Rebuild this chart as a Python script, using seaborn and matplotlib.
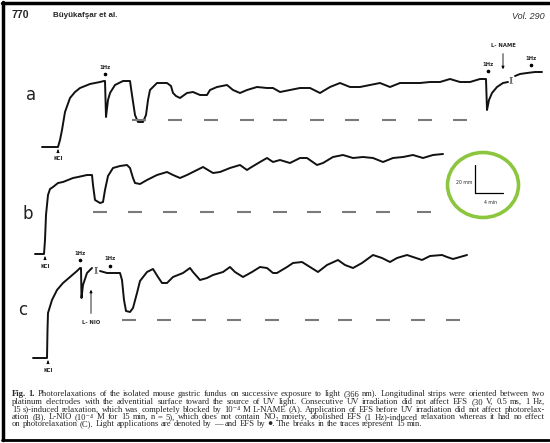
import matplotlib
matplotlib.use("Agg")
import matplotlib.pyplot as plt
import seaborn as sns
from matplotlib.patches import Ellipse

# ---------------- data (image grid units) ----------------
# trace a : KCl contraction, EFS (1 Hz), light relaxations, break, L-NAME, EFS
trace_a1_x = [42, 58, 60, 62, 65, 70, 75, 80, 90, 100, 104, 105, 106, 108, 110, 115, 123, 130, 132, 135,
              138, 143, 146, 148, 150, 157, 167, 171, 173, 176, 180, 187, 193, 200, 207, 210, 217, 227,
              233, 240, 247, 257, 267, 273, 280, 290, 300, 310, 320, 330, 340, 350, 360, 370, 380, 390,
              400, 410, 420, 430, 440, 450, 460, 470, 480, 486, 487, 489, 492, 497, 503, 508]
trace_a1_y = [147, 147, 140, 130, 112, 98, 92, 88, 84, 82, 81, 81, 117, 100, 93, 85, 81, 81, 95, 115,
              122, 122, 115, 100, 90, 83, 83, 86, 93, 96, 98, 93, 92, 95, 95, 90, 87, 85,
              90, 93, 90, 87, 88, 88, 92, 90, 88, 88, 93, 87, 83, 87, 87, 85, 83, 87,
              83, 83, 83, 82, 82, 79, 82, 82, 79, 79, 110, 100, 93, 87, 83, 82]
trace_a2_x = [515, 520, 527, 535, 542]
trace_a2_y = [76, 74, 73, 72, 72]

# trace b : EFS before UV irradiation
trace_b_x = [35, 44, 45, 46, 48, 50, 53, 58, 63, 73, 78, 87, 92, 93, 95, 100, 103, 105, 108, 113, 120,
             127, 130, 133, 135, 140, 147, 157, 167, 173, 180, 187, 197, 203, 208, 213, 220, 230, 240,
             247, 250, 260, 267, 273, 280, 290, 300, 307, 317, 323, 333, 343, 353, 363, 373, 383, 393,
             403, 413, 423, 433, 443]
trace_b_y = [254, 254, 240, 215, 195, 189, 187, 183, 182, 178, 177, 175, 175, 185, 200, 203, 202, 190,
             176, 168, 166, 165, 168, 178, 183, 184, 180, 175, 172, 175, 178, 175, 170, 167, 170, 173,
             172, 168, 165, 170, 168, 162, 158, 162, 160, 163, 158, 158, 165, 163, 157, 155, 158, 157,
             158, 162, 158, 157, 155, 158, 155, 154]

# trace c : L-NIO
trace_c1_x = [33, 47, 47.5, 48, 52, 57, 63, 70, 77, 80, 81, 81.5, 83, 87, 92]
trace_c1_y = [358, 358, 330, 313, 300, 290, 283, 277, 271, 268, 268, 298, 285, 273, 268]
trace_c2_x = [100, 107, 120, 122, 124, 126, 130, 133, 137, 140, 147, 153, 158, 162, 167, 173, 183, 190,
              193, 200, 207, 213, 223, 230, 235, 243, 252, 260, 267, 273, 277, 287, 293, 302, 310, 318,
              327, 338, 345, 353, 362, 373, 382, 390, 397, 407, 413, 422, 430, 442, 447, 453, 460, 467]
trace_c2_y = [271, 273, 273, 280, 300, 311, 312, 308, 293, 281, 272, 269, 277, 283, 283, 277, 273, 268,
              272, 280, 278, 275, 272, 267, 272, 277, 272, 267, 268, 273, 273, 267, 263, 262, 267, 272,
              265, 260, 265, 268, 263, 255, 258, 262, 258, 255, 257, 260, 256, 255, 257, 259, 257, 255]

# light applications (dashes): start positions, level
light_a_x = [132, 168, 204, 240, 273, 310, 345, 382, 418, 453]
light_a_y = 120
light_b_x = [93, 128, 163, 200, 237, 273, 307, 342, 376, 417]
light_b_y = 212
light_c_x = [122, 157, 192, 227, 265, 305, 338, 376, 411, 446]
light_c_y = 320
light_len = 14

caption = [
    "Fig. 1. Photorelaxations of the isolated mouse gastric fundus on successive exposure to light (366 nm). Longitudinal strips were oriented between two",
    "platinum electrodes with the adventitial surface toward the source of UV light. Consecutive UV irradiation did not affect EFS (30 V, 0.5 ms, 1 Hz,",
    "15 s)-induced relaxation, which was completely blocked by 10\u207b\u2074 M L-NAME (A). Application of EFS before UV irradiation did not affect photorelax-",
    "ation (B). L-NIO (10\u207b\u2074 M for 15 min, n = 5), which does not contain NO\u2082 moiety, abolished EFS (1 Hz)-induced relaxation whereas it had no effect",
    "on photorelaxation (C). Light applications are denoted by \u2014 and EFS by \u25cf. The breaks in the traces represent 15 min.",
]

# ---------------- figure ----------------
sns.set_theme(style="white")
plt.rcParams["font.family"] = ["DejaVu Sans"]
fig = plt.figure(figsize=(5.5, 4.43), dpi=100)
ax = fig.add_axes([0, 0, 1, 1])
ax.set_xlim(0, 550)
ax.set_ylim(443, 0)
ax.axis("off")

# frame
ax.plot([2, 549], [2.5, 2.5], color="black", lw=2.5)
ax.plot([2.5, 2.5], [2, 440], color="black", lw=2.5)
ax.plot([2, 549], [439.5, 439.5], color="black", lw=2)

# header
ax.text(12, 15, "770", fontsize=7.5, weight="bold", family="Liberation Sans", va="center")
ax.text(53, 15, "Büyükafşar et al.", fontsize=5.8, weight="bold", family="Liberation Sans", va="center")
ax.text(545, 16, "Vol. 290", fontsize=6.5, style="italic", family="Liberation Sans", va="center",
        ha="right", color="#333333")

# traces
kw = dict(sort=False, estimator=None, color="#111111", lw=1.4, ax=ax, legend=False)
for xs, ys in [(trace_a1_x, trace_a1_y), (trace_a2_x, trace_a2_y), (trace_b_x, trace_b_y),
               (trace_c1_x, trace_c1_y), (trace_c2_x, trace_c2_y)]:
    sns.lineplot(x=xs, y=ys, **kw)

# light dashes
for xs, y in [(light_a_x, light_a_y), (light_b_x, light_b_y), (light_c_x, light_c_y)]:
    ax.hlines([y] * len(xs), xs, [x + light_len for x in xs], color="#7a7a7a", lw=1.5)

# panel letters
lab = dict(fontsize=12, family="DejaVu Sans", va="center", ha="center", color="#222222")
ax.text(31, 95, "a", **lab)
ax.text(28, 214, "b", **lab)
ax.text(23, 310, "c", **lab)

small = dict(fontsize=3.8, family="DejaVu Sans", ha="center", va="center", weight="bold")
arr = dict(arrowstyle="-|>", lw=0.6, color="black", mutation_scale=4)

# KCl arrows
for x, y in [(58, 148), (45, 255), (48, 359)]:
    ax.annotate("KCl", xy=(x, y + 1.5), xytext=(x, y + 11), arrowprops=arr, **small)

# EFS marks (1 Hz + dot)
for x, y in [(105, 67), (488, 64), (531, 58), (80, 253), (110, 259)]:
    ax.text(x, y, "1Hz", **small)
    ax.plot([x], [y + 7], marker="o", ms=1.6, color="black")

# drugs
ax.annotate("L- NAME", xy=(503, 72), xytext=(503, 45), arrowprops=arr, **small)
ax.annotate("L- NIO", xy=(91, 287), xytext=(91, 322), arrowprops=arr, **small)

# breaks
ax.text(511.5, 80, "][", fontsize=5, ha="center", va="center", family="DejaVu Sans")
ax.text(96, 270, "][", fontsize=5, ha="center", va="center", family="DejaVu Sans")

# scale bar in green ellipse
ax.add_patch(Ellipse((483, 185), 71, 65, fill=False, ec="#8cc63f", lw=2.6))
ax.plot([475, 475, 503], [165, 193, 193], color="black", lw=0.9)
ax.text(464, 183, "20 mm", fontsize=3.3, ha="center", va="center", family="DejaVu Sans")
ax.text(490, 202, "4 min", fontsize=3.3, ha="center", va="center", family="DejaVu Sans")

# caption (justified, font size fitted to the first line)
serif = ["Liberation Serif", "DejaVu Serif"]
renderer = fig.canvas.get_renderer()
x0, x1 = 12, 545
probe = ax.text(0, 0, caption[0], fontsize=6, family=serif)
fs = 6 * (x1 - x0) / probe.get_window_extent(renderer).width * 0.985
probe.remove()
baselines = [396, 404, 411.5, 419, 426.5]
for i, (line, yb) in enumerate(zip(caption, baselines)):
    words = line.split(" ")
    objs = []
    for j, w in enumerate(words):
        bold = (i == 0 and j < 2)
        objs.append(ax.text(0, yb, w, fontsize=fs, family=serif, weight="bold" if bold else "normal",
                            va="baseline", ha="left"))
    widths = [t.get_window_extent(renderer).width for t in objs]
    if i < len(caption) - 1:
        gap = (x1 - x0 - sum(widths)) / (len(objs) - 1)
    else:
        gap = 0.25 * fs * 100 / 72
    x = x0
    for t, w in zip(objs, widths):
        t.set_x(x)
        x += w + gap

fig.savefig("out.png", dpi=100)
